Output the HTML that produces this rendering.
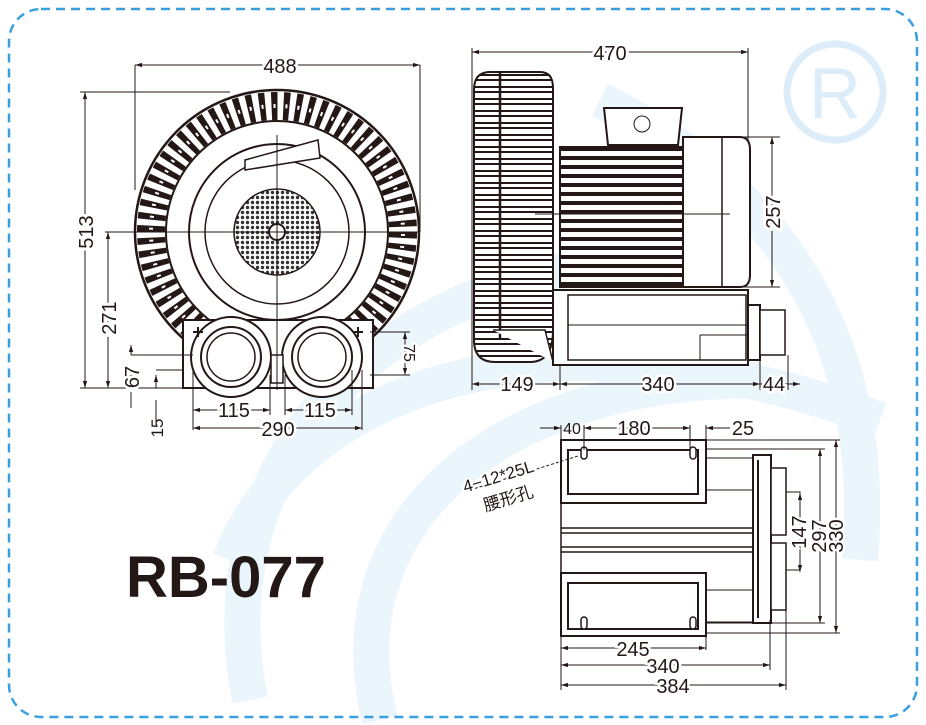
<!DOCTYPE html>
<html><head><meta charset="utf-8"><style>
html,body{margin:0;padding:0;background:#fff;}
svg{display:block}
text{font-family:"Liberation Sans","Noto Sans CJK SC",sans-serif;fill:#231815}
</style></head><body>
<svg width="926" height="725" viewBox="0 0 926 725" xmlns="http://www.w3.org/2000/svg">
<defs>
<pattern id="hl" width="10" height="9" patternUnits="userSpaceOnUse"><rect width="10" height="9" fill="#fff"/><rect y="3" width="10" height="4" fill="#231815"/></pattern>
<pattern id="hl2" width="10" height="12" patternUnits="userSpaceOnUse"><rect width="10" height="12" fill="#fff"/><rect y="2" width="10" height="7" fill="#231815"/><rect y="4" width="10" height="3" fill="#fff"/></pattern>
<pattern id="mesh" width="5" height="5" patternUnits="userSpaceOnUse"><rect width="5" height="5" fill="#fff"/><circle cx="2.5" cy="2.5" r="1.7" fill="#333"/></pattern>
<marker id="a" viewBox="0 0 10 10" refX="10" refY="5" markerWidth="7" markerHeight="7" orient="auto-start-reverse"><path d="M0,2 L10,5 L0,8z" fill="#231815"/></marker>
</defs>
<!-- watermark -->
<g fill="none" stroke="#eaf5fc" stroke-width="36">
<path d="M250,700 C200,450 400,250 700,260"/>
<path d="M380,720 C330,520 500,380 760,380"/>
<path d="M600,100 C760,180 880,320 860,560"/>
<path d="M230,560 C300,380 560,300 880,420"/>
</g>
<circle cx="835" cy="92" r="48" fill="none" stroke="#dcedf9" stroke-width="7"/>
<text x="835" y="118" font-size="72" text-anchor="middle" style="fill:#dcedf9">R</text>
<rect x="9" y="9" width="908" height="708" rx="32" fill="none" stroke="#3a9fdc" stroke-width="2.5" stroke-dasharray="9 6"/>

<g stroke="#231815" fill="none" stroke-width="1">
<!-- FRONT VIEW -->
<circle cx="277" cy="232" r="142" fill="#fff" stroke-width="2.5"/>
<circle cx="277" cy="232" r="126" stroke="#231815" stroke-width="28" stroke-dasharray="6 6"/>
<circle cx="277" cy="232" r="126" stroke="#fff" stroke-width="4" stroke-dasharray="2 10" stroke-dashoffset="-2"/>
<circle cx="277" cy="232" r="111" stroke-width="2"/>
<circle cx="277" cy="232" r="88" fill="#fff" stroke-width="2"/>
<circle cx="277" cy="232" r="72" stroke-width="1.5"/>
<circle cx="277" cy="232" r="43" fill="url(#mesh)" stroke-width="1.5"/>
<circle cx="277" cy="232" r="8" fill="#fff" stroke-width="2"/>
<path d="M245,160 L318,140 L320,158 L245,170z" fill="#fff" stroke-width="1.5"/>
<!-- base -->
<rect x="183" y="320" width="190" height="68" fill="#fff" stroke-width="2"/>
<circle cx="231" cy="357" r="40" fill="#fff" stroke-width="2"/>
<circle cx="231" cy="357" r="30" stroke-width="2"/>
<circle cx="231" cy="357" r="24" stroke-width="1.5"/>
<circle cx="322" cy="357" r="40" fill="#fff" stroke-width="2"/>
<circle cx="322" cy="357" r="30" stroke-width="2"/>
<circle cx="322" cy="357" r="24" stroke-width="1.5"/>
<rect x="271" y="355" width="12" height="28" fill="#fff" stroke-width="1.5"/>
<path d="M193,332h10M198,327v10M353,332h10M358,327v10" stroke-width="2"/>
<!-- center lines -->
<path d="M277,135V390M105,232H418"/>
<!-- dims front -->
<path d="M135,65H420" marker-start="url(#a)" marker-end="url(#a)"/>
<path d="M135,65V190M420,65V232"/>
<path d="M85,92V388" marker-start="url(#a)" marker-end="url(#a)"/>
<path d="M80,92H230M80,388H183"/>
<path d="M108,232V388" marker-start="url(#a)" marker-end="url(#a)"/>
<path d="M131,355H193M156,370H183"/>
<path d="M131,355V345" marker-end="url(#a)"/><path d="M131,388V375" marker-start="url(#a)"/>
<path d="M156,388V375" marker-end="url(#a)"/><path d="M156,400V425"/>
<path d="M131,392V408"/>
<path d="M405,332V375" marker-start="url(#a)" marker-end="url(#a)"/><path d="M370,332H410M370,375H410"/>
<path d="M193,410H270" marker-start="url(#a)" marker-end="url(#a)"/>
<path d="M285,410H352" marker-start="url(#a)" marker-end="url(#a)"/>
<path d="M193,428H362" marker-start="url(#a)" marker-end="url(#a)"/>
<path d="M193,370V430M270,375V415M285,375V415M352,370V415M362,370V430"/>

<!-- SIDE VIEW -->
<path d="M490,72H540Q553,72 553,88V330Q553,362 530,362H495Q474,362 474,340V90Q474,72 490,72z" fill="url(#hl2)" stroke-width="2"/>
<path d="M500,72V340" stroke-width="2.5"/>
<path d="M493,330H545L553,362" fill="#fff" stroke-width="1.5"/>
<rect x="553" y="290" width="195" height="75" fill="#fff" stroke-width="2"/>
<rect x="568" y="295" width="178" height="65" stroke-width="1.5"/>
<path d="M568,325H748M700,335H750M700,335V360"/>
<rect x="560" y="147" width="123" height="140" fill="url(#hl)" stroke-width="2"/>
<path d="M683,137H740Q750,137 750,150V275Q750,287 740,287H683z" fill="#fff" stroke-width="2"/>
<path d="M722,137V287" stroke-width="1.5"/>
<path d="M604,108H682L678,145H608z" fill="#fff" stroke-width="2"/>
<circle cx="642" cy="124" r="8"/>
<rect x="748" y="305" width="12" height="55" fill="#fff" stroke-width="2"/>
<rect x="760" y="310" width="25" height="45" fill="#fff" stroke-width="1.5"/>
<path d="M535,214H730"/>
<!-- side dims -->
<path d="M472,52H748" marker-start="url(#a)" marker-end="url(#a)"/>
<path d="M472,48V390M748,48V140"/>
<path d="M772,137V287" marker-start="url(#a)" marker-end="url(#a)"/>
<path d="M740,137H780M740,287H780"/>
<path d="M472,384H560" marker-start="url(#a)" marker-end="url(#a)"/>
<path d="M560,384H760" marker-start="url(#a)" marker-end="url(#a)"/>
<path d="M760,384H800" marker-start="url(#a)" marker-end="url(#a)"/>
<path d="M560,365V390M760,360V390M788,355V390"/>

<!-- BOTTOM VIEW -->
<rect x="561" y="440" width="145" height="63" fill="#fff" stroke-width="2"/>
<rect x="568" y="450" width="130" height="44" stroke-width="2"/>
<rect x="561" y="573" width="145" height="63" fill="#fff" stroke-width="2"/>
<rect x="568" y="583" width="130" height="46" stroke-width="2"/>
<path d="M561,503V573M561,528H753M561,533H753M561,547H753M561,552H753" stroke-width="1.5"/>
<path d="M706,458H753M706,490H753M706,590H753M706,622H753"/>
<rect x="753" y="455" width="18" height="168" fill="#fff" stroke-width="2"/>
<path d="M758,460V618" stroke-width="2"/>
<rect x="771" y="468" width="15" height="67" fill="#fff" stroke-width="1.5"/>
<rect x="771" y="543" width="15" height="67" fill="#fff" stroke-width="1.5"/>
<path d="M786,492H800V570H786"/>
<rect x="581" y="447" width="6" height="12" rx="3" fill="#fff" stroke-width="1.5"/>
<rect x="690" y="447" width="6" height="12" rx="3" fill="#fff" stroke-width="1.5"/>
<rect x="581" y="617" width="6" height="12" rx="3" fill="#fff" stroke-width="1.5"/>
<rect x="690" y="617" width="6" height="12" rx="3" fill="#fff" stroke-width="1.5"/>
<path d="M470,490L578,456" stroke-dasharray="3 2"/>
<!-- bottom dims -->
<path d="M540,428H561" marker-end="url(#a)"/>
<path d="M584,428H690" marker-start="url(#a)" marker-end="url(#a)"/>
<path d="M730,428H706" marker-end="url(#a)"/>
<path d="M561,425V690M584,425V450M690,425V450M706,425V440M770,620V670M786,610V690"/>
<path d="M561,648H706" marker-start="url(#a)" marker-end="url(#a)"/>
<path d="M561,665H770" marker-start="url(#a)" marker-end="url(#a)"/>
<path d="M561,685H786" marker-start="url(#a)" marker-end="url(#a)"/>
<path d="M706,636V650"/>
<path d="M800,493V572" marker-start="url(#a)" marker-end="url(#a)"/>
<path d="M820,449V623" marker-start="url(#a)" marker-end="url(#a)"/>
<path d="M836,440V633" marker-start="url(#a)" marker-end="url(#a)"/>
<path d="M706,440H840M706,449H825M706,623H825M706,633H840"/>
</g>

<!-- labels -->
<g font-size="20">
<text x="280" y="73" text-anchor="middle" style="paint-order:stroke;stroke:#fff;stroke-width:6px">488</text>
<text transform="translate(93,232) rotate(-90)" text-anchor="middle" style="paint-order:stroke;stroke:#fff;stroke-width:6px">513</text>
<text transform="translate(116,318) rotate(-90)" text-anchor="middle" style="paint-order:stroke;stroke:#fff;stroke-width:6px">271</text>
<text transform="translate(139,377) rotate(-90)" text-anchor="middle" style="paint-order:stroke;stroke:#fff;stroke-width:5px">67</text>
<text transform="translate(163,428) rotate(-90)" text-anchor="middle" font-size="17">15</text>
<text transform="translate(404,353) rotate(90)" text-anchor="middle" font-size="16" style="paint-order:stroke;stroke:#fff;stroke-width:5px">75</text>
<text x="234" y="417" text-anchor="middle" style="paint-order:stroke;stroke:#fff;stroke-width:5px">115</text>
<text x="320" y="417" text-anchor="middle" style="paint-order:stroke;stroke:#fff;stroke-width:5px">115</text>
<text x="278" y="436" text-anchor="middle" style="paint-order:stroke;stroke:#fff;stroke-width:5px">290</text>
<text x="610" y="60" text-anchor="middle" style="paint-order:stroke;stroke:#fff;stroke-width:6px">470</text>
<text transform="translate(780,212) rotate(-90)" text-anchor="middle" style="paint-order:stroke;stroke:#fff;stroke-width:6px">257</text>
<text x="517" y="391" text-anchor="middle" style="paint-order:stroke;stroke:#fff;stroke-width:5px">149</text>
<text x="658" y="391" text-anchor="middle" style="paint-order:stroke;stroke:#fff;stroke-width:5px">340</text>
<text x="774" y="391" text-anchor="middle" style="paint-order:stroke;stroke:#fff;stroke-width:5px">44</text>
<text x="572" y="434" text-anchor="middle" font-size="16">40</text>
<text x="634" y="435" text-anchor="middle" style="paint-order:stroke;stroke:#fff;stroke-width:5px">180</text>
<text x="743" y="435" text-anchor="middle">25</text>
<text x="633" y="656" text-anchor="middle" style="paint-order:stroke;stroke:#fff;stroke-width:5px">245</text>
<text x="663" y="673" text-anchor="middle" style="paint-order:stroke;stroke:#fff;stroke-width:5px">340</text>
<text x="673" y="693" text-anchor="middle" style="paint-order:stroke;stroke:#fff;stroke-width:5px">384</text>
<text transform="translate(806,532) rotate(-90)" text-anchor="middle" style="paint-order:stroke;stroke:#fff;stroke-width:5px">147</text>
<text transform="translate(826,536) rotate(-90)" text-anchor="middle" style="paint-order:stroke;stroke:#fff;stroke-width:5px">297</text>
<text transform="translate(843,536) rotate(-90)" text-anchor="middle" style="paint-order:stroke;stroke:#fff;stroke-width:5px">330</text>
<text transform="translate(500,482) rotate(-17)" text-anchor="middle" font-size="17" style="paint-order:stroke;stroke:#fff;stroke-width:4px">4−12*25L</text>
<text transform="translate(510,504) rotate(-17)" text-anchor="middle" font-size="17">腰形孔</text>
</g>
<text x="126" y="597" font-size="58" font-weight="bold">RB-077</text>
</svg>
</body></html>
